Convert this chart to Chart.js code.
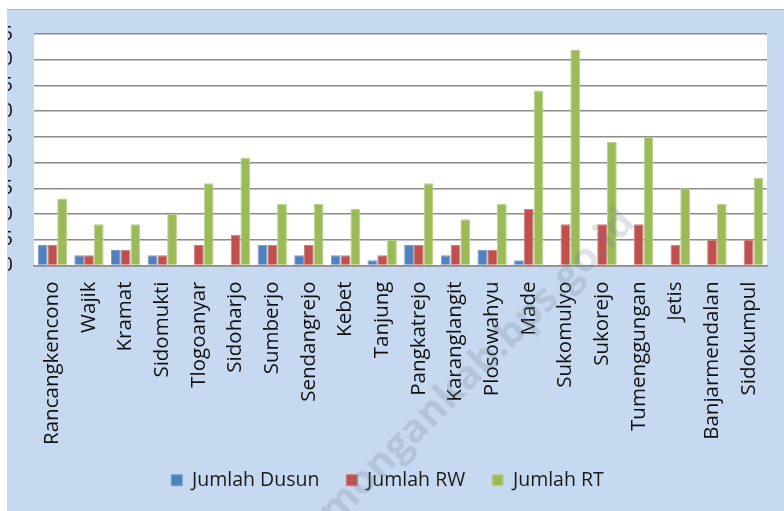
<!DOCTYPE html>
<html>
<head>
<meta charset="utf-8">
<script src="https://cdn.jsdelivr.net/npm/chart.js@4/dist/chart.umd.min.js"></script>
<style>
  html, body { margin: 0; padding: 0; background: #fff; }
  body { width: 784px; height: 511px; position: relative; overflow: hidden; }
  #frame {
    position: absolute; left: 7px; top: 9px; width: 777px; height: 502px;
    background: #c6d9f0; border-top: 1px solid #b4b4b4; overflow: hidden;
  }
  #wrap { position: absolute; left: -30px; top: 0; width: 807px; height: 502px; }
  #mark {
    position: absolute; right: 158px; top: 186px;
    font: bold 40px "Open Sans", sans-serif; color: rgba(110, 120, 140, 0.22);
    white-space: nowrap; transform-origin: right center; transform: rotate(-45deg);
    pointer-events: none;
  }
</style>
</head>
<body>
<div id="frame"><div id="wrap"><canvas id="chart"></canvas></div></div>
<div id="mark">lamongankab.bps.go.id</div>
<script>
const desa = ['Rancangkencono', 'Wajik', 'Kramat', 'Sidomukti', 'Tlogoanyar', 'Sidoharjo', 'Sumberjo',
  'Sendangrejo', 'Kebet', 'Tanjung', 'Pangkatrejo', 'Karanglangit', 'Plosowahyu', 'Made', 'Sukomulyo',
  'Sukorejo', 'Tumenggungan', 'Jetis', 'Banjarmendalan', 'Sidokumpul'];
const jumlahDusun = [4, 2, 3, 2, 0, 0, 4, 2, 2, 1, 4, 2, 3, 1, 0, 0, 0, 0, 0, 0];
const jumlahRW = [4, 2, 3, 2, 4, 6, 4, 4, 2, 2, 4, 4, 3, 11, 8, 8, 8, 4, 5, 5];
const jumlahRT = [13, 8, 8, 10, 16, 21, 12, 12, 11, 5, 16, 9, 12, 34, 42, 24, 25, 15, 12, 17];
const yTicks = [0, 5, 10, 15, 20, 25, 30, 35, 40, 45];

const font = "'Open Sans', sans-serif";
const gridColor = '#8c8c8c';

// white plot background like the Excel plot area
const plotBg = {
  id: 'plotBg',
  beforeDraw(c) {
    const a = c.chartArea;
    c.ctx.save();
    c.ctx.fillStyle = '#ffffff';
    c.ctx.fillRect(a.left, a.top, a.right - a.left, a.bottom - a.top);
    c.ctx.restore();
  },
};

function series(label, data, color, edge) {
  return {
    label, data,
    backgroundColor: color,
    borderColor: edge,
    borderWidth: 1,
    categoryPercentage: 0.8,
    barPercentage: 1.0,
  };
}

new Chart(document.getElementById('chart'), {
  type: 'bar',
  data: {
    labels: desa,
    datasets: [
      series('Jumlah Dusun', jumlahDusun, '#4f81bd', '#7a9fcf'),
      series('Jumlah RW', jumlahRW, '#c0504d', '#d27f7d'),
      series('Jumlah RT', jumlahRT, '#9bbb59', '#bcd38c'),
    ],
  },
  options: {
    responsive: true,
    maintainAspectRatio: false,
    animation: false,
    layout: { padding: { top: 24, right: 17, left: 31, bottom: 12 } },
    plugins: {
      tooltip: { enabled: false },
      legend: {
        position: 'bottom',
        labels: {
          boxWidth: 11, boxHeight: 11, padding: 27, color: '#1a1a1a',
          font: { family: font, size: 19.5 },
        },
      },
    },
    scales: {
      x: {
        grid: { display: false },
        border: { color: gridColor, width: 1.5 },
        ticks: {
          color: '#111', autoSkip: false, maxRotation: 90, minRotation: 90, padding: 8,
          font: { family: font, size: 20.5 },
        },
        afterFit(s) { s.height = 178; },
      },
      y: {
        min: 0, max: 45,
        afterBuildTicks(s) { s.ticks = yTicks.map((v) => ({ value: v })); },
        grid: { color: gridColor, lineWidth: 1.5, drawTicks: false },
        border: { display: false },
        ticks: { color: '#111', autoSkip: false, padding: 21, font: { family: font, size: 20 } },
        afterFit(s) {
          s.width = 26;
          s.paddingTop = 0;
          s.paddingBottom = 0;
        },
      },
    },
  },
  plugins: [plotBg],
});
</script>
</body>
</html>
